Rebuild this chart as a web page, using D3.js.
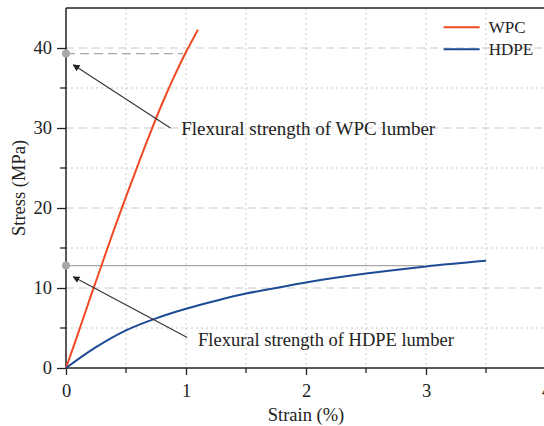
<!DOCTYPE html>
<html>
<head>
<meta charset="utf-8">
<script src="https://cdn.jsdelivr.net/npm/d3@7"></script>
<style>
  body { margin: 0; background: #fff; }
  svg text { font-family: "Liberation Serif", "Times New Roman", Times, "DejaVu Serif", serif; }
</style>
</head>
<body>
<div id="chart"></div>
<script>
// Curve data (strain %, stress MPa)
const wpcStrain = [0, 0.1, 0.2, 0.3, 0.4, 0.5, 0.6, 0.7, 0.8, 0.9, 1.0, 1.05, 1.1];
const wpcStress = [0, 4.3, 8.7, 13, 17.3, 21.4, 25.4, 29.3, 33.0, 36.4, 39.5, 40.9, 42.3];
const hdpeStrain = [0, 0.25, 0.5, 0.75, 1, 1.25, 1.5, 1.75, 2, 2.5, 3, 3.5];
const hdpeStress = [0, 2.6, 4.7, 6.2, 7.4, 8.4, 9.3, 10.0, 10.7, 11.8, 12.7, 13.4];

const seriesNames = ['WPC', 'HDPE'];
const seriesColors = ['#f04a24', '#1d4b95'];

const xTicks = [0, 1, 2, 3, 4];
const yTicks = [0, 10, 20, 30, 40];

// Flexural strength markers: [stress, strain where the guide line ends]
const wpcStrength = [39.3, 0.975];
const hdpeStrength = [12.8, 2.98];

const serif = '"Liberation Serif", "Times New Roman", Times, serif';
const margin = { top: 8, right: -2, bottom: 58, left: 66 };
const width = 544, height = 426;
const innerW = width - margin.left - margin.right;
const innerH = height - margin.top - margin.bottom;

const svg = d3.select('#chart').append('svg')
  .attr('width', width)
  .attr('height', height)
  .attr('font-family', serif);

const g = svg.append('g')
  .attr('transform', `translate(${margin.left},${margin.top})`);

const x = d3.scaleLinear().domain([0, 4]).range([0, innerW]);
const y = d3.scaleLinear().domain([0, 45]).range([innerH, 0]);

// Grid: vertical dotted every 0.5, horizontal dashed on majors, dotted on minors
const xGrid = d3.range(0.5, 4, 0.5);
g.selectAll('.vgrid').data(xGrid).enter().append('line')
  .attr('x1', (d) => x(d)).attr('x2', (d) => x(d))
  .attr('y1', 0).attr('y2', innerH)
  .attr('stroke', '#c8c8c8').attr('stroke-width', 1)
  .attr('stroke-dasharray', '2,3');

const yGrid = d3.range(5, 45, 5);
g.selectAll('.hgrid').data(yGrid).enter().append('line')
  .attr('x1', 0).attr('x2', innerW)
  .attr('y1', (d) => y(d)).attr('y2', (d) => y(d))
  .attr('stroke', '#c8c8c8').attr('stroke-width', 1)
  .attr('stroke-dasharray', (d) => (d % 10 === 0 ? '8,5' : '2,3'));

// Axes
const xAxis = d3.axisBottom(x).tickValues(xTicks).tickFormat(d3.format('d'))
  .tickSize(7).tickPadding(9);
const yAxis = d3.axisLeft(y).tickValues(yTicks).tickFormat(d3.format('d'))
  .tickSize(9).tickPadding(5);

const xg = g.append('g').attr('transform', `translate(0,${innerH})`).call(xAxis);
const yg = g.append('g').call(yAxis);

[xg, yg].forEach((a) => {
  a.attr('font-family', serif);
  a.select('.domain').remove();
  a.selectAll('line').attr('stroke', '#222').attr('stroke-width', 1.3);
  a.selectAll('text').attr('font-size', 18.5).attr('fill', '#222');
});

// minor ticks
g.selectAll('.xminor').data(d3.range(0.5, 4, 1)).enter().append('line')
  .attr('x1', (d) => x(d)).attr('x2', (d) => x(d))
  .attr('y1', innerH).attr('y2', innerH + 5)
  .attr('stroke', '#222').attr('stroke-width', 1.3);
g.selectAll('.yminor').data(d3.range(5, 45, 10)).enter().append('line')
  .attr('x1', -6).attr('x2', 0)
  .attr('y1', (d) => y(d)).attr('y2', (d) => y(d))
  .attr('stroke', '#222').attr('stroke-width', 1.3);

// spines
g.append('line').attr('x1', 0).attr('x2', 0).attr('y1', 0).attr('y2', innerH)
  .attr('stroke', '#222').attr('stroke-width', 1.5);
g.append('line').attr('x1', 0).attr('x2', innerW).attr('y1', innerH).attr('y2', innerH)
  .attr('stroke', '#222').attr('stroke-width', 1.5);
g.append('line').attr('x1', 0).attr('x2', innerW).attr('y1', 0).attr('y2', 0)
  .attr('stroke', '#222').attr('stroke-width', 1.5);

// Axis titles
svg.append('text')
  .attr('x', margin.left + x(2)).attr('y', 421)
  .attr('text-anchor', 'middle').attr('font-size', 18.5).attr('fill', '#222')
  .text('Strain (%)');
svg.append('text')
  .attr('transform', `translate(25,${margin.top + y(22.5)}) rotate(-90)`)
  .attr('text-anchor', 'middle').attr('font-size', 18.5).attr('fill', '#222')
  .text('Stress (MPa)');

// Strength guide lines
g.append('line')
  .attr('x1', x(0)).attr('x2', x(wpcStrength[1]))
  .attr('y1', y(wpcStrength[0])).attr('y2', y(wpcStrength[0]))
  .attr('stroke', '#a8a8a8').attr('stroke-width', 1.3)
  .attr('stroke-dasharray', '9,5');
g.append('line')
  .attr('x1', x(0)).attr('x2', x(hdpeStrength[1]))
  .attr('y1', y(hdpeStrength[0])).attr('y2', y(hdpeStrength[0]))
  .attr('stroke', '#a8a8a8').attr('stroke-width', 1.3);

// Curves
const line = d3.line().x((d) => x(d[0])).y((d) => y(d[1])).curve(d3.curveCatmullRom);
const series = [
  d3.zip(wpcStrain, wpcStress),
  d3.zip(hdpeStrain, hdpeStress),
];
series.forEach((pts, i) => {
  g.append('path').datum(pts)
    .attr('d', line)
    .attr('fill', 'none')
    .attr('stroke', seriesColors[i])
    .attr('stroke-width', 2);
});

// Marker dots
[wpcStrength, hdpeStrength].forEach((s) => {
  g.append('circle')
    .attr('cx', x(0)).attr('cy', y(s[0])).attr('r', 4)
    .attr('fill', '#a8a8a8');
});

// Annotations with arrows
svg.append('defs').append('marker')
  .attr('id', 'arrow')
  .attr('viewBox', '0 0 10 10')
  .attr('refX', 9).attr('refY', 5)
  .attr('markerWidth', 7).attr('markerHeight', 7)
  .attr('markerUnits', 'userSpaceOnUse')
  .attr('orient', 'auto')
  .append('path').attr('d', 'M0,0 L10,5 L0,10 z').attr('fill', '#222');

const notes = [
  { text: 'Flexural strength of WPC lumber', tx: 0.96, ty: 30.0, sx: 0.87, sy: 30.0, target: wpcStrength },
  { text: 'Flexural strength of HDPE lumber', tx: 1.1, ty: 3.6, sx: 1.01, sy: 3.8, target: hdpeStrength },
];
notes.forEach((n) => {
  g.append('line')
    .attr('x1', x(n.sx)).attr('y1', y(n.sy))
    .attr('x2', x(0.06)).attr('y2', y(n.target[0] - 1.4))
    .attr('stroke', '#333').attr('stroke-width', 1.1)
    .attr('marker-end', 'url(#arrow)');
  g.append('text')
    .attr('x', x(n.tx)).attr('y', y(n.ty))
    .attr('dy', '0.35em')
    .attr('font-size', n.text.includes('HDPE') ? 18.5 : 19).attr('fill', '#222')
    .text(n.text);
});

// Legend
const legend = g.append('g').attr('transform', `translate(${x(3.147)},${y(42.6)})`);
seriesNames.forEach((name, i) => {
  legend.append('line')
    .attr('x1', 0).attr('x2', 36)
    .attr('y1', i * 22).attr('y2', i * 22)
    .attr('stroke', seriesColors[i]).attr('stroke-width', 2);
  legend.append('text')
    .attr('x', 45).attr('y', i * 22).attr('dy', '0.35em')
    .attr('font-size', 17).attr('fill', '#222')
    .text(name);
});
</script>
</body>
</html>
